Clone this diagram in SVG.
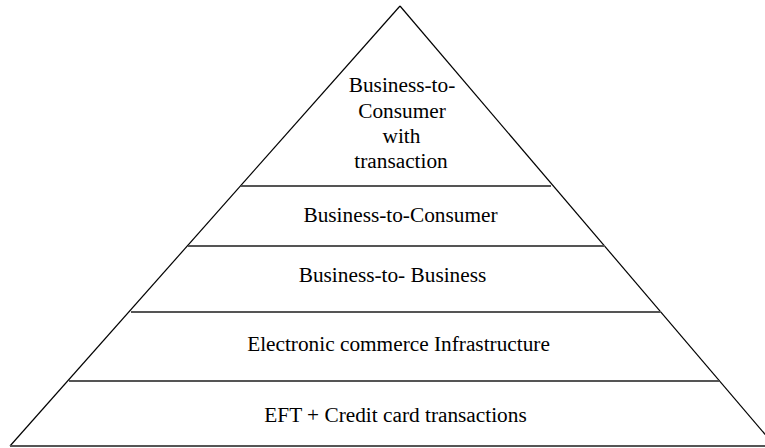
<svg xmlns="http://www.w3.org/2000/svg" width="765" height="448" viewBox="0 0 765 448">
<style>
.edge{stroke:#000;stroke-width:1.2;fill:none}
.div{stroke:#555;stroke-width:2;fill:none}
.t{font-family:'Liberation Serif','Times New Roman','DejaVu Serif',serif;font-size:21.3px;fill:#000;text-anchor:middle}
</style>
<rect width="765" height="448" fill="#fff"/>
<g id="outline">
<line class="edge" x1="400" y1="6" x2="10" y2="446"/>
<line class="edge" x1="400" y1="6" x2="775" y2="446"/>
</g>
<g id="dividers">
<line class="div" x1="241" y1="186" x2="551" y2="186"/>
<line class="div" x1="188" y1="246" x2="605" y2="246"/>
<line class="div" x1="131" y1="312" x2="661" y2="312"/>
<line class="div" x1="69" y1="381" x2="719" y2="381"/>
<line class="div" x1="10" y1="446" x2="765" y2="446"/>
</g>
<g id="layer1">
<text class="t" font-family="Liberation Serif, serif" x="402" y="92">Business-to-</text>
<text class="t" font-family="Liberation Serif, serif" x="402" y="117.5">Consumer</text>
<text class="t" font-family="Liberation Serif, serif" x="401.5" y="143">with</text>
<text class="t" font-family="Liberation Serif, serif" x="401" y="168">transaction</text>
</g>
<g id="layer2"><text class="t" font-family="Liberation Serif, serif" x="400.5" y="222">Business-to-Consumer</text></g>
<g id="layer3"><text class="t" font-family="Liberation Serif, serif" x="392.5" y="282">Business-to- Business</text></g>
<g id="layer4"><text class="t" font-family="Liberation Serif, serif" x="398.5" y="351">Electronic commerce Infrastructure</text></g>
<g id="layer5"><text class="t" font-family="Liberation Serif, serif" x="395.5" y="422">EFT + Credit card transactions</text></g>
</svg>
